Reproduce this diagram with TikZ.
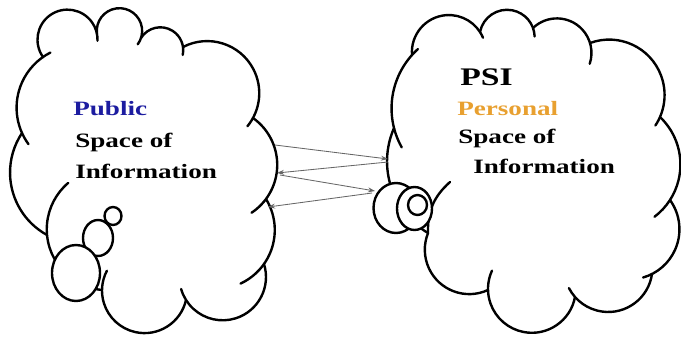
\documentclass[tikz,border=0pt]{standalone}
\usepackage{fontspec}
\setmainfont{Liberation Serif}
\newfontfamily\widefont[FakeStretch=1.33]{Liberation Serif}
\usetikzlibrary{arrows.meta}
\definecolor{publicblue}{RGB}{28,28,160}
\definecolor{personalgold}{RGB}{232,160,48}
\tikzset{
  cloudline/.style={line width=1.7pt, line join=round, line cap=round},
  bubble/.style={cloudline, fill=white},
  link/.style={draw=black!60, line width=0.6pt, -{Stealth[length=5pt,width=3.5pt]}},
  infotext/.style={anchor=base west, inner sep=0pt, font=\widefont\bfseries\fontsize{14.5}{17}\selectfont},
}
% one puff of a cloud: circular arc from #1 to #2, bulge ratio #3,
% arc carried on by #4 degrees before #1 and #5 degrees after #2 (the hooks)
\newcommand\cloudbump[5]{%
  \path (#1); \pgfgetlastxy{\cbax}{\cbay}%
  \path (#2); \pgfgetlastxy{\cbbx}{\cbby}%
  \pgfmathsetmacro\cbchord{atan2(\cbby-\cbay,\cbbx-\cbax)}%
  \pgfmathsetmacro\cblen{veclen(\cbbx-\cbax,\cbby-\cbay)}%
  \pgfmathsetmacro\cbhalf{2*atan(2*#3)}%
  \pgfmathsetmacro\cbrad{\cblen*(0.25+#3*#3)/(2*#3)}%
  \pgfmathsetmacro\cboff{\cblen*(#3*#3-0.25)/(2*#3)}%
  \pgfmathsetmacro\cbcx{(\cbax+\cbbx)/2+\cboff*cos(\cbchord+90)}%
  \pgfmathsetmacro\cbcy{(\cbay+\cbby)/2+\cboff*sin(\cbchord+90)}%
  \pgfmathsetmacro\cbsa{\cbchord+90+\cbhalf+#4}%
  \pgfmathsetmacro\cbea{\cbchord+90-\cbhalf-#5}%
  \draw [cloudline] (\cbcx pt,\cbcy pt) ++(\cbsa:\cbrad pt)
    arc [start angle=\cbsa, end angle=\cbea, radius=\cbrad pt];%
}
\begin{document}
\begin{tikzpicture}[x=0.025cm, y=0.025cm]
    \useasboundingbox (0,0) rectangle (681,338);

      % left cloud: junctions
      \coordinate (J1) at (43,281);
      \coordinate (J2) at (97,304);
      \coordinate (J3) at (141,300);
      \coordinate (J4) at (183,291);
      \coordinate (J5) at (253,220);
      \coordinate (J6) at (266,139);
      \coordinate (J7) at (264,74);
      \coordinate (J8) at (186,38);
      \coordinate (J9) at (102,48);
      \coordinate (J10) at (47,103);
      \coordinate (J11) at (22,205);

      % right cloud: junctions
      \coordinate (K1) at (412,283);
      \coordinate (K2) at (480,306);
      \coordinate (K3) at (533,310);
      \coordinate (K4) at (590,295);
      \coordinate (K5) at (660,221);
      \coordinate (K6) at (670,138);
      \coordinate (K7) at (652,64);
      \coordinate (K8) at (575,41);
      \coordinate (K9) at (488,48);
      \coordinate (K10) at (428,105);
      \coordinate (K11) at (394,210);
      \coordinate (G10) at (450,156);

      % arrow ends
      \coordinate (a1s) at (275,193);
      \coordinate (a1e) at (388,179);
      \coordinate (a2s) at (388,176);
      \coordinate (a2e) at (277,165);
      \coordinate (a3s) at (280,163);
      \coordinate (a3e) at (375,147);
      \coordinate (a4s) at (372,145);
      \coordinate (a4e) at (268,131);

      % draw left cloud
      \foreach \a/\b/\r/\s/\e in {J1/J2/0.62/0/13, J2/J3/0.63/0/18,
          J3/J4/0.35/0/20, J4/J5/0.37/0/11, J5/J6/0.21/0/20, J6/J7/0.15/0/30,
          J7/J8/0.44/0/16, J8/J9/0.45/0/27, J9/J10/0.18/0/55,
          J10/J11/0.22/0/0, J11/J1/0.18/12/8}
        \cloudbump{\a}{\b}{\r}{\s}{\e};

      % draw right cloud
      \foreach \a/\b/\r/\s/\e in {K1/K2/0.39/0/10, K2/K3/0.38/0/18,
          K3/K4/0.28/0/35, K4/K5/0.33/0/10, K5/K6/0.18/0/20, K6/K7/0.23/0/11,
          K7/K8/0.32/0/14, K8/K9/0.45/0/26, K9/K10/0.34/0/0,
          K10/K11/0.19/0/0, K11/K1/0.125/15/6}
        \cloudbump{\a}{\b}{\r}{\s}{\e};
      \draw [cloudline] (K10) to[bend left=25] (G10);

      % thought bubbles
      \draw [bubble] (113,122) ellipse [x radius=8.5, y radius=9];
      \draw [bubble] (98,100) ellipse [x radius=15, y radius=18];
      \draw [bubble] (76,65) ellipse [x radius=24, y radius=28];
      \draw [bubble] (396,130) ellipse [x radius=22.5, y radius=25];
      \draw [bubble] (414.5,129.5) ellipse [x radius=17.5, y radius=21.5];
      \draw [bubble] (417.5,133) ellipse [x radius=9.5, y radius=10];

      % arrows between the clouds
      \draw [link] (a1s) -- (a1e);
      \draw [link] (a2s) -- (a2e);
      \draw [link] (a3s) -- (a3e);
      \draw [link] (a4s) -- (a4e);

      % add labels
      \node [infotext, text=publicblue] (public) at (73,223) {Public};
      \node [infotext] (space1) at (75,191) {Space of};
      \node [infotext] (info1) at (75,160) {Information};
      \node [infotext, font=\widefont\bfseries\fontsize{18}{21}\selectfont] (psi) at (460,253) {PSI};
      \node [infotext, text=personalgold] (personal) at (457,223) {Personal};
      \node [infotext] (space2) at (458,195) {Space of};
      \node [infotext] (info2) at (473,165) {Information};
\end{tikzpicture}
\end{document}
